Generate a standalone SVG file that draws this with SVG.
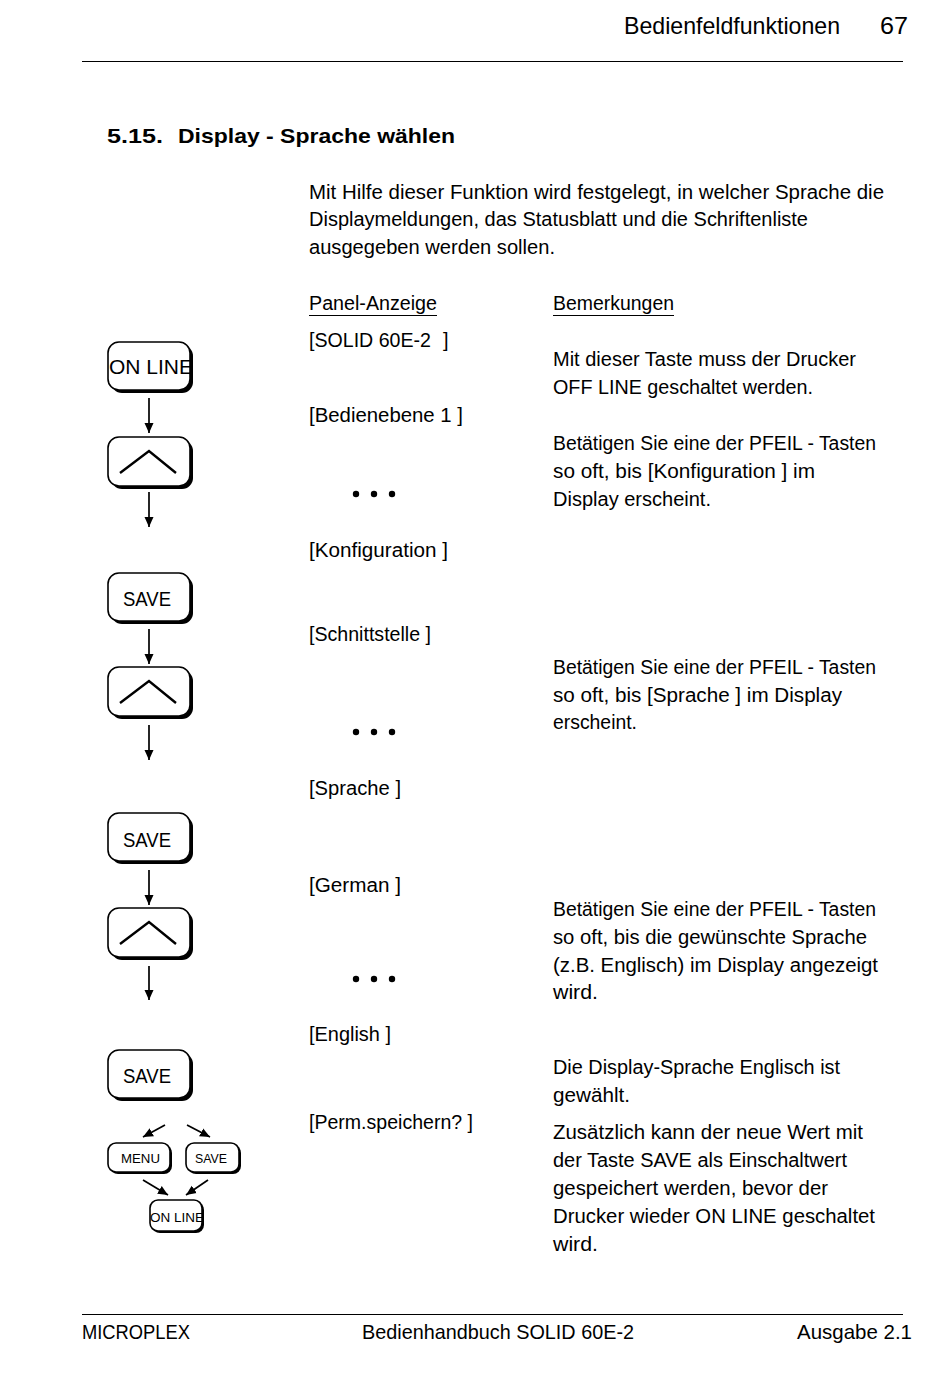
<svg xmlns="http://www.w3.org/2000/svg" width="950" height="1379" viewBox="0 0 950 1379">
<style>
text{font-family:"Liberation Sans",Arial,sans-serif;fill:#000;}
.b{font-size:20px;}
.h{font-size:24px;}
.t{font-size:21px;font-weight:bold;}
.k{font-size:20px;}
.s{font-size:13px;}
.sh{fill:#000;}
.bt{fill:#fff;stroke:#000;stroke-width:1.6;}
.ln{stroke:#000;stroke-width:1.7;fill:none;}
.c{stroke:#000;stroke-width:2.4;fill:none;}
</style>
<defs>
<marker id="ah" markerWidth="12" markerHeight="12" refX="10" refY="5.5" orient="auto" markerUnits="userSpaceOnUse">
<path d="M0,1 L10,5.5 L0,10 Z" fill="#000"/>
</marker>
</defs>
<rect width="950" height="1379" fill="#fff"/>
<g id="header">
<text class="h" x="624" y="34" textLength="216" lengthAdjust="spacingAndGlyphs">Bedienfeldfunktionen</text>
<text class="h" x="880" y="34" textLength="28" lengthAdjust="spacingAndGlyphs">67</text>
<line x1="82" y1="61.5" x2="903" y2="61.5" stroke="#000" stroke-width="1"/>
</g>
<g id="title">
<text class="t" x="107" y="143" textLength="56" lengthAdjust="spacingAndGlyphs">5.15.</text>
<text class="t" x="178" y="143" textLength="277" lengthAdjust="spacingAndGlyphs">Display - Sprache wählen</text>
</g>
<g id="intro">
<text class="b" x="309" y="199" textLength="575" lengthAdjust="spacingAndGlyphs">Mit Hilfe dieser Funktion wird festgelegt, in welcher Sprache die</text>
<text class="b" x="309" y="226" textLength="499" lengthAdjust="spacingAndGlyphs">Displaymeldungen, das Statusblatt und die Schriftenliste</text>
<text class="b" x="309" y="254" textLength="246" lengthAdjust="spacingAndGlyphs">ausgegeben werden sollen.</text>
</g>
<g id="col-heads">
<text class="b" x="309" y="310" textLength="128" lengthAdjust="spacingAndGlyphs">Panel-Anzeige</text>
<line x1="309" y1="315.5" x2="437" y2="315.5" stroke="#000" stroke-width="1.2"/>
<text class="b" x="553" y="310" textLength="121" lengthAdjust="spacingAndGlyphs">Bemerkungen</text>
<line x1="553" y1="315.5" x2="674" y2="315.5" stroke="#000" stroke-width="1.2"/>
</g>
<g id="panel">
<text class="b" x="309" y="347" textLength="122" lengthAdjust="spacingAndGlyphs">[SOLID 60E-2</text>
<text class="b" x="443" y="347">]</text>
<text class="b" x="309" y="422" textLength="154" lengthAdjust="spacingAndGlyphs">[Bedienebene 1 ]</text>
<g fill="#000"><circle cx="356" cy="494" r="3.2"/><circle cx="374" cy="494" r="3.2"/><circle cx="392" cy="494" r="3.2"/></g>
<text class="b" x="309" y="557" textLength="139" lengthAdjust="spacingAndGlyphs">[Konfiguration ]</text>
<text class="b" x="309" y="641" textLength="122" lengthAdjust="spacingAndGlyphs">[Schnittstelle ]</text>
<g fill="#000"><circle cx="356" cy="732" r="3.2"/><circle cx="374" cy="732" r="3.2"/><circle cx="392" cy="732" r="3.2"/></g>
<text class="b" x="309" y="795" textLength="92" lengthAdjust="spacingAndGlyphs">[Sprache ]</text>
<text class="b" x="309" y="892" textLength="92" lengthAdjust="spacingAndGlyphs">[German ]</text>
<g fill="#000"><circle cx="356" cy="979" r="3.2"/><circle cx="374" cy="979" r="3.2"/><circle cx="392" cy="979" r="3.2"/></g>
<text class="b" x="309" y="1041" textLength="82" lengthAdjust="spacingAndGlyphs">[English ]</text>
<text class="b" x="309" y="1129" textLength="164" lengthAdjust="spacingAndGlyphs">[Perm.speichern? ]</text>
</g>
<g id="remarks">
<text class="b" x="553" y="366" textLength="303" lengthAdjust="spacingAndGlyphs">Mit dieser Taste muss der Drucker</text>
<text class="b" x="553" y="394" textLength="260" lengthAdjust="spacingAndGlyphs">OFF LINE geschaltet werden.</text>
<text class="b" x="553" y="450" textLength="323" lengthAdjust="spacingAndGlyphs">Betätigen Sie eine der PFEIL - Tasten</text>
<text class="b" x="553" y="478" textLength="262" lengthAdjust="spacingAndGlyphs">so oft, bis [Konfiguration ] im</text>
<text class="b" x="553" y="506" textLength="158" lengthAdjust="spacingAndGlyphs">Display erscheint.</text>
<text class="b" x="553" y="674" textLength="323" lengthAdjust="spacingAndGlyphs">Betätigen Sie eine der PFEIL - Tasten</text>
<text class="b" x="553" y="702" textLength="289" lengthAdjust="spacingAndGlyphs">so oft, bis [Sprache ] im Display</text>
<text class="b" x="553" y="729" textLength="84" lengthAdjust="spacingAndGlyphs">erscheint.</text>
<text class="b" x="553" y="916" textLength="323" lengthAdjust="spacingAndGlyphs">Betätigen Sie eine der PFEIL - Tasten</text>
<text class="b" x="553" y="944" textLength="314" lengthAdjust="spacingAndGlyphs">so oft, bis die gewünschte Sprache</text>
<text class="b" x="553" y="972" textLength="325" lengthAdjust="spacingAndGlyphs">(z.B. Englisch) im Display angezeigt</text>
<text class="b" x="553" y="999" textLength="45" lengthAdjust="spacingAndGlyphs">wird.</text>
<text class="b" x="553" y="1074" textLength="287" lengthAdjust="spacingAndGlyphs">Die Display-Sprache Englisch ist</text>
<text class="b" x="553" y="1102" textLength="77" lengthAdjust="spacingAndGlyphs">gewählt.</text>
<text class="b" x="553" y="1139" textLength="310" lengthAdjust="spacingAndGlyphs">Zusätzlich kann der neue Wert mit</text>
<text class="b" x="553" y="1167" textLength="294" lengthAdjust="spacingAndGlyphs">der Taste SAVE als Einschaltwert</text>
<text class="b" x="553" y="1195" textLength="275" lengthAdjust="spacingAndGlyphs">gespeichert werden, bevor der</text>
<text class="b" x="553" y="1223" textLength="322" lengthAdjust="spacingAndGlyphs">Drucker wieder ON LINE geschaltet</text>
<text class="b" x="553" y="1251" textLength="45" lengthAdjust="spacingAndGlyphs">wird.</text>
</g>
<g id="btn-online">
<rect class="sh" x="111" y="345" width="82" height="48" rx="11"/>
<rect class="bt" x="108" y="342" width="82" height="48" rx="11"/>
<text class="k" x="109" y="374" textLength="84" lengthAdjust="spacingAndGlyphs">ON LINE</text>
</g>
<g id="btn-up1">
<rect class="sh" x="111" y="440" width="82" height="49" rx="11"/>
<rect class="bt" x="108" y="437" width="82" height="49" rx="11"/>
<polyline class="c" points="120,473 149,451 176,473"/>
</g>
<g id="btn-save1">
<rect class="sh" x="111" y="576" width="82" height="48" rx="11"/>
<rect class="bt" x="108" y="573" width="82" height="48" rx="11"/>
<text class="k" x="123" y="606" textLength="48" lengthAdjust="spacingAndGlyphs">SAVE</text>
</g>
<g id="btn-up2">
<rect class="sh" x="111" y="670" width="82" height="49" rx="11"/>
<rect class="bt" x="108" y="667" width="82" height="49" rx="11"/>
<polyline class="c" points="120,703 149,681 176,703"/>
</g>
<g id="btn-save2">
<rect class="sh" x="111" y="816" width="82" height="48" rx="11"/>
<rect class="bt" x="108" y="813" width="82" height="48" rx="11"/>
<text class="k" x="123" y="847" textLength="48" lengthAdjust="spacingAndGlyphs">SAVE</text>
</g>
<g id="btn-up3">
<rect class="sh" x="111" y="911" width="82" height="49" rx="11"/>
<rect class="bt" x="108" y="908" width="82" height="49" rx="11"/>
<polyline class="c" points="120,944 149,922 176,944"/>
</g>
<g id="btn-save3">
<rect class="sh" x="111" y="1053" width="82" height="48" rx="11"/>
<rect class="bt" x="108" y="1050" width="82" height="48" rx="11"/>
<text class="k" x="123" y="1083" textLength="48" lengthAdjust="spacingAndGlyphs">SAVE</text>
</g>
<g id="btn-menu">
<rect class="sh" x="110" y="1145" width="62" height="29" rx="8"/>
<rect class="bt" x="108" y="1143" width="62" height="29" rx="8"/>
<text class="s" x="121" y="1163" textLength="39" lengthAdjust="spacingAndGlyphs">MENU</text>
</g>
<g id="btn-save-small">
<rect class="sh" x="188" y="1145" width="53" height="29" rx="8"/>
<rect class="bt" x="186" y="1143" width="53" height="29" rx="8"/>
<text class="s" x="195" y="1163" textLength="32" lengthAdjust="spacingAndGlyphs">SAVE</text>
</g>
<g id="btn-online-small">
<rect class="sh" x="152" y="1202" width="52" height="31" rx="8"/>
<rect class="bt" x="150" y="1200" width="52" height="31" rx="8"/>
<text class="s" x="150" y="1222" textLength="54" lengthAdjust="spacingAndGlyphs">ON LINE</text>
</g>
<g id="connectors">
<line class="ln" x1="149" y1="398" x2="149" y2="433" marker-end="url(#ah)"/>
<line class="ln" x1="149" y1="492" x2="149" y2="527" marker-end="url(#ah)"/>
<line class="ln" x1="149" y1="629" x2="149" y2="664" marker-end="url(#ah)"/>
<line class="ln" x1="149" y1="725" x2="149" y2="760" marker-end="url(#ah)"/>
<line class="ln" x1="149" y1="870" x2="149" y2="905" marker-end="url(#ah)"/>
<line class="ln" x1="149" y1="966" x2="149" y2="1000" marker-end="url(#ah)"/>
<line class="ln" x1="165" y1="1125" x2="143" y2="1137" marker-end="url(#ah)"/>
<line class="ln" x1="187" y1="1125" x2="210" y2="1137" marker-end="url(#ah)"/>
<line class="ln" x1="143" y1="1180" x2="168" y2="1195" marker-end="url(#ah)"/>
<line class="ln" x1="208" y1="1180" x2="186" y2="1195" marker-end="url(#ah)"/>
</g>
<g id="footer">
<line x1="82" y1="1314.5" x2="903" y2="1314.5" stroke="#000" stroke-width="1"/>
<text class="h" x="82" y="1339" style="font-size:21px" textLength="108" lengthAdjust="spacingAndGlyphs">MICROPLEX</text>
<text class="h" x="362" y="1339" style="font-size:21px" textLength="272" lengthAdjust="spacingAndGlyphs">Bedienhandbuch SOLID 60E-2</text>
<text class="h" x="797" y="1339" style="font-size:21px" textLength="115" lengthAdjust="spacingAndGlyphs">Ausgabe 2.1</text>
</g>
</svg>
